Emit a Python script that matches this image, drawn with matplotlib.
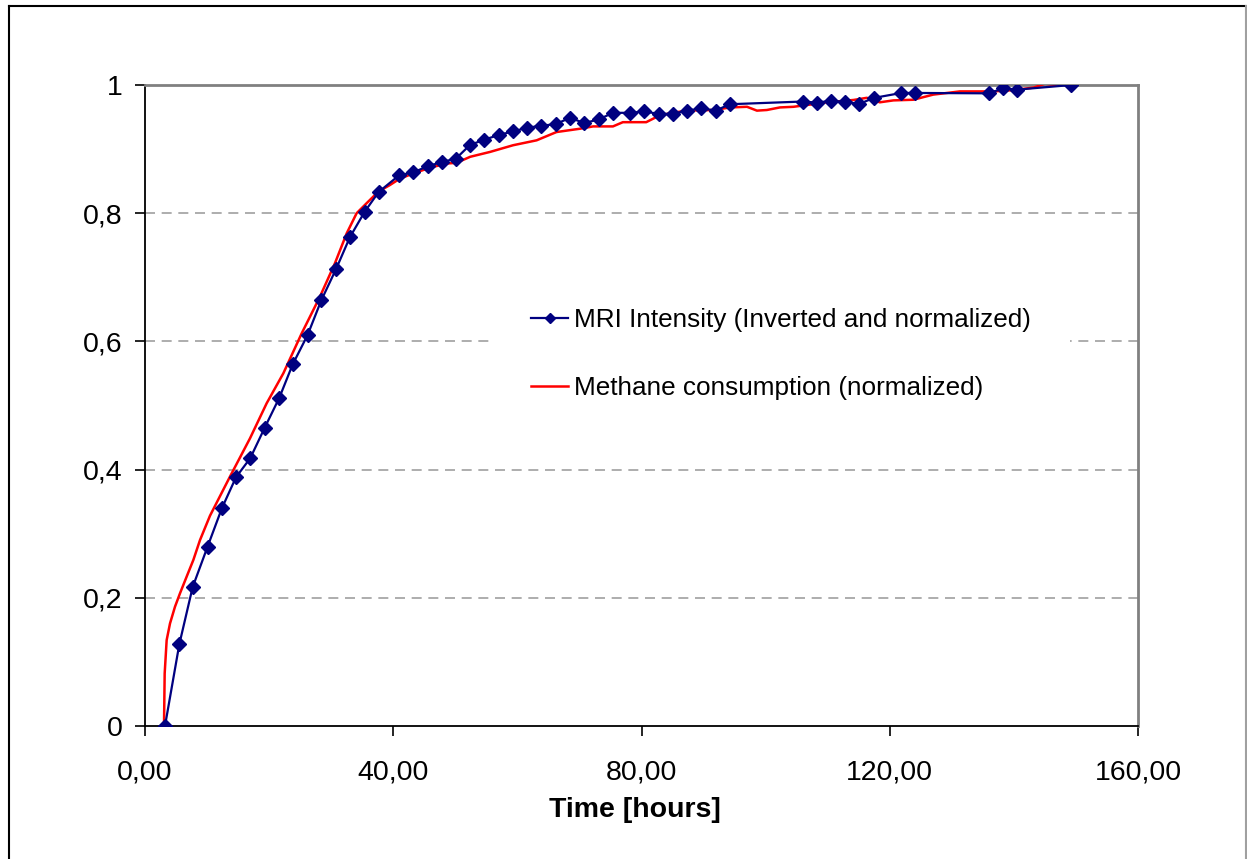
import matplotlib
matplotlib.use("Agg")
import matplotlib.pyplot as plt
from matplotlib.lines import Line2D

# ---- data ----
mri_time = [3.22, 5.53, 7.68, 10.09, 12.40, 14.66, 16.97, 19.27, 21.64, 23.79,
            26.20, 28.40, 30.82, 33.02, 35.38, 37.64, 40.98, 43.24, 45.55, 47.8,
            50.11, 52.37, 54.68, 56.99, 59.3, 61.55, 63.86, 66.17, 68.48, 70.79,
            73.1, 75.41, 78.15, 80.41, 82.77, 85.03, 87.33, 89.64, 91.96, 94.21,
            105.97, 108.23, 110.49, 112.85, 115.1, 117.42, 121.87, 124.07, 136.0,
            138.3, 140.56, 149.26]
mri_value = [0.0, 0.1276, 0.2167, 0.280, 0.340, 0.388, 0.418, 0.465, 0.512, 0.564,
             0.610, 0.664, 0.7136, 0.7627, 0.802, 0.833, 0.8594, 0.8636, 0.8734, 0.8796,
             0.8853, 0.9065, 0.9147, 0.922, 0.9276, 0.9333, 0.9364, 0.939, 0.9488, 0.9406,
             0.9463, 0.9566, 0.9566, 0.9587, 0.955, 0.955, 0.960, 0.9638, 0.960, 0.970,
             0.9742, 0.9726, 0.9752, 0.9736, 0.9705, 0.9798, 0.9876, 0.9876, 0.987,
             0.995, 0.9928, 1.0]

methane_time = [3.06, 3.17, 3.49, 4.03, 4.83, 5.64, 6.71, 7.79, 8.86, 10.47,
                13.69, 16.92, 19.6, 22.29, 25.25, 28.2, 30.6, 32.5, 34.1, 35.7,
                37.6, 39.47, 41.08, 43.24, 45.9, 48.6, 50.2, 52.4, 55.6, 59.3,
                63.1, 66.3, 70.1, 72.2, 75.4, 77.0, 80.76, 82.4, 84.5, 87.3,
                91.6, 94.3, 97.0, 98.6, 100.2, 102.3, 104.5, 107.2, 109.9, 114.2,
                116.3, 118.4, 120.6, 123.8, 127.0, 131.3, 136.7, 139.9, 143.2, 145.0,
                146.7]
methane_value = [0.0, 0.082, 0.134, 0.160, 0.186, 0.207, 0.233, 0.259, 0.290, 0.328,
                 0.389, 0.4488, 0.5034, 0.5502, 0.6126, 0.670, 0.7218, 0.7686, 0.800, 0.8155,
                 0.8336, 0.844, 0.854, 0.862, 0.871, 0.8775, 0.8786, 0.888, 0.8956, 0.906,
                 0.9137, 0.9266, 0.9318, 0.9354, 0.9354, 0.942, 0.942, 0.95, 0.956, 0.960,
                 0.961, 0.965, 0.966, 0.960, 0.961, 0.965, 0.966, 0.9695, 0.973, 0.9767,
                 0.980, 0.973, 0.976, 0.977, 0.985, 0.990, 0.990, 0.992, 0.996, 1.002,
                 1.000]

x_ticks = [0, 40, 80, 120, 160]
x_tick_labels = ["0,00", "40,00", "80,00", "120,00", "160,00"]
y_ticks = [0, 0.2, 0.4, 0.6, 0.8, 1.0]
y_tick_labels = ["0", "0,2", "0,4", "0,6", "0,8", "1"]

label_mri = "MRI Intensity (Inverted and normalized)"
label_methane = "Methane consumption (normalized)"
x_label = "Time [hours]"

# ---- figure ----
plt.rcParams['font.family'] = ['Liberation Sans', 'DejaVu Sans']
W, H = 1247, 859
fig = plt.figure(figsize=(W / 100, H / 100), dpi=100)
ax = fig.add_axes([145 / W, 1 - 726 / H, (1138 - 145) / W, (726 - 85) / H])

ax.plot(methane_time, methane_value, color='#FF0000', lw=1.8, zorder=3,
        label=label_methane)
ax.plot(mri_time, mri_value, color='#000080', lw=1.6, marker='D', ms=7.5,
        markeredgecolor='#000080', markerfacecolor='#000080', zorder=4,
        label=label_mri)

ax.set_xlim(0, 160)
ax.set_ylim(0, 1)
ax.set_xticks(x_ticks)
ax.set_xticklabels(x_tick_labels)
ax.set_yticks(y_ticks)
ax.set_yticklabels(y_tick_labels)

ax.tick_params(axis='both', direction='out', length=7, width=1.2, color='black',
               labelsize=20.5)
ax.tick_params(axis='x', pad=17)
ax.tick_params(axis='y', pad=9)

for yv in y_ticks[1:-1]:
    ax.axhline(yv, color='#a0a0a0', lw=1.2, ls=(0, (6, 4)), zorder=1)

ax.spines['left'].set_color('black')
ax.spines['bottom'].set_color('black')
ax.spines['left'].set_linewidth(1.3)
ax.spines['bottom'].set_linewidth(1.3)
ax.spines['top'].set_color('#808080')
ax.spines['right'].set_color('#808080')
ax.spines['top'].set_linewidth(2)
ax.spines['right'].set_linewidth(2)

ax.set_xlabel(x_label, fontsize=20.5, fontweight='bold')
ax.xaxis.label.set_va('center')
ax.xaxis.set_label_coords((635 - 145) / 993, (726 - 810) / 641)

handles, labels = ax.get_legend_handles_labels()
leg = ax.legend(handles[::-1], labels[::-1], loc='center',
                bbox_to_anchor=(781 / W, 1 - 354 / H), bbox_transform=fig.transFigure,
                fontsize=18.8, frameon=True, facecolor='white', edgecolor='none',
                framealpha=1, fancybox=False, handlelength=1.42, handletextpad=0.23,
                labelspacing=1.66, borderpad=1.5, numpoints=1, markerscale=0.7)
leg.set_zorder(5)

# outer chart border
fig.add_artist(Line2D([9 / W, 9 / W], [0, 1 - 6 / H], transform=fig.transFigure,
                      color='black', lw=1.5))
fig.add_artist(Line2D([9 / W, 1246 / W], [1 - 6 / H, 1 - 6 / H], transform=fig.transFigure,
                      color='black', lw=1.5))
fig.add_artist(Line2D([1246 / W, 1246 / W], [0, 1 - 6 / H], transform=fig.transFigure,
                      color='#a0a0a0', lw=1.5))

fig.savefig("out.png", dpi=100)
